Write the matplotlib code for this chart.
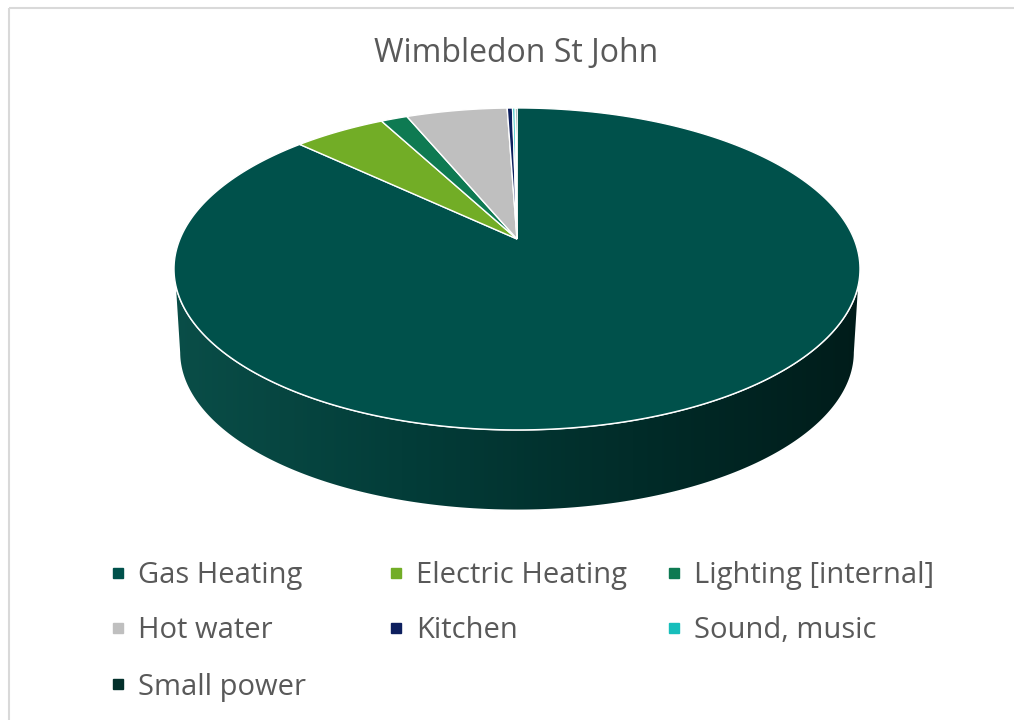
import numpy as np
import matplotlib
matplotlib.use("Agg")
import matplotlib.pyplot as plt
from matplotlib.patches import Polygon, Rectangle
from matplotlib.colors import LinearSegmentedColormap

title = "Wimbledon St John"
labels = ["Gas Heating", "Electric Heating", "Lighting [internal]",
          "Hot water", "Kitchen", "Sound, music", "Small power"]
values = [87.0, 5.2, 1.5, 5.7, 0.3, 0.15, 0.1]
colors = ["#00514B", "#72AD26", "#0E7A52", "#BFBFBF",
          "#0D1F5E", "#17BEBB", "#03302B"]

plt.rcParams["font.family"] = ["Open Sans", "DejaVu Sans"]

fig = plt.figure(figsize=(10.14, 7.2), dpi=100)
ax = fig.add_axes([0, 0, 1, 1])
ax.set_xlim(0, 1014)
ax.set_ylim(720, 0)
ax.axis("off")

# chart border (light grey, only top and left visible)
ax.add_patch(Rectangle((8.5, 7.5), 1100, 800, fill=False,
                       edgecolor="#D9D9D9", lw=1.5))

# perspective pie geometry (pixels)
cx, cy = 517, 239
a, b, k = 337, 155.4, 0.186
depth = 84


def proj(theta, r=1.0, dy=0.0):
    u = r * np.sin(theta)
    v = r * np.cos(theta)
    s = 1.0 / (1.0 + k * v)
    return cx + a * u * s, cy - b * v * s + dy


# side wall (front half) with horizontal gradient, light left -> dark right
t0 = np.pi / 2 + np.arcsin(k)
t1 = 3 * np.pi / 2 - np.arcsin(k)
th = np.linspace(t0, t1, 300)
xt, yt = proj(th)
xb, yb = proj(th[::-1], r=0.985, dy=depth)
side = Polygon(np.column_stack([np.r_[xt, xb], np.r_[yt, yb]]),
               closed=True, facecolor="none", edgecolor="white", lw=1.2,
               zorder=2)
ax.add_patch(side)
cmap = LinearSegmentedColormap.from_list(
    "side", ["#0A4E48", "#033D39", "#012C29", "#001C1A"])
grad = np.linspace(0, 1, 256)[None, :]
im = ax.imshow(grad, extent=[170, 865, 525, 260], cmap=cmap,
               aspect="auto", zorder=1)
im.set_clip_path(side)

# top face slices, clockwise from 12 o'clock
fracs = np.array(values) / sum(values)
edges = np.r_[0, np.cumsum(fracs)] * 2 * np.pi
for i in range(len(values)):
    th = np.linspace(edges[i], edges[i + 1], max(3, int(400 * fracs[i])))
    x, y = proj(th)
    ax.add_patch(Polygon(np.column_stack([np.r_[cx, x], np.r_[cy, y]]),
                         closed=True, facecolor=colors[i],
                         edgecolor="white", lw=1.0, zorder=3))

ax.text(516, 53, title, ha="center", va="center", fontsize=23,
        color="#595959")

# legend, row-major like the original
col_x = [118, 396, 674]
row_y = [573, 628, 684]
for i, lab in enumerate(labels):
    r, c = divmod(i, 3)
    ax.plot(col_x[c], row_y[r], "s", ms=6.8, color=colors[i], zorder=4)
    ax.text(col_x[c] + 20, row_y[r] + 3, lab, ha="left", va="center",
            fontsize=21, color="#595959")

fig.savefig("out.png", dpi=100, facecolor="white")
